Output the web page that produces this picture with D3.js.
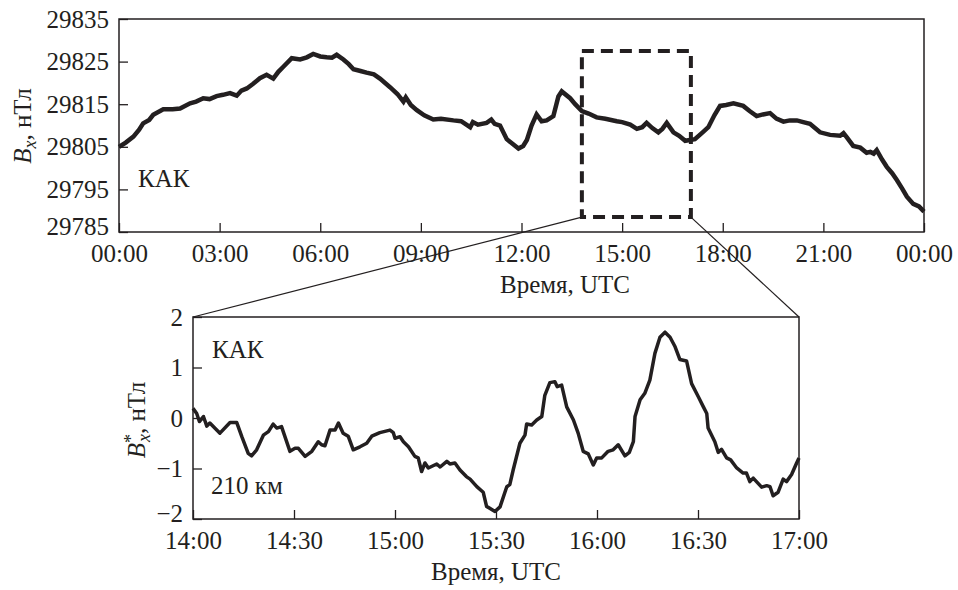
<!DOCTYPE html>
<html>
<head>
<meta charset="utf-8">
<script src="https://cdn.jsdelivr.net/npm/d3@7"></script>
<style>
  body { margin: 0; background: #fff; }
  svg text { font-family: "Times New Roman", "Liberation Serif", Tinos, "DejaVu Serif", "Noto Serif", serif; fill: #231f20; }
</style>
</head>
<body>
<script>
// top panel: whole day, hours UTC and Bx in nT
const topHours = [0, 0.2, 0.43, 0.6, 0.72, 0.9, 1.02, 1.32, 1.6, 1.82, 2.12, 2.3, 2.51, 2.7, 2.91, 3.1, 3.31, 3.51, 3.65, 3.81,
  4.0, 4.2, 4.4, 4.6, 4.75, 4.9, 5.15, 5.4, 5.6, 5.79, 6.0, 6.19, 6.35, 6.49, 6.69, 6.85, 6.99, 7.2, 7.38, 7.6,
  7.78, 8.08, 8.3, 8.48, 8.55, 8.7, 8.88, 9.1, 9.37, 9.6, 9.97, 10.2, 10.47, 10.55, 10.7, 10.96, 11.1, 11.2, 11.36, 11.56,
  11.75, 11.91, 12.05, 12.16, 12.3, 12.45, 12.6, 12.75, 12.95, 13.1, 13.2, 13.45, 13.6, 13.8, 14.0, 14.24, 14.5, 14.84, 15.0, 15.24,
  15.44, 15.6, 15.73, 15.9, 16.08, 16.2, 16.33, 16.53, 16.7, 16.88, 17.17, 17.4, 17.57, 17.75, 17.92, 18.1, 18.32, 18.61, 18.8, 19.01,
  19.2, 19.41, 19.6, 19.81, 20.0, 20.21, 20.4, 20.6, 20.9, 21.2, 21.5, 21.6, 21.7, 21.89, 22.1, 22.29, 22.4, 22.5, 22.59, 22.75,
  22.89, 23.05, 23.19, 23.35, 23.49, 23.68, 23.85, 24]
const topValues = [29805.0, 29806.0, 29807.4, 29809.0, 29810.5, 29811.3, 29812.5, 29813.8, 29813.8, 29814.0, 29815.2, 29815.6, 29816.4, 29816.2, 29816.9, 29817.2, 29817.6, 29817.0, 29818.2, 29818.7,
  29819.8, 29821.1, 29821.9, 29821.0, 29822.6, 29823.8, 29825.8, 29825.5, 29826.0, 29826.8, 29826.2, 29826.0, 29825.9, 29826.6, 29825.5, 29824.4, 29823.2, 29822.8, 29822.4, 29822.0,
  29821.0, 29819.0, 29817.4, 29815.6, 29816.6, 29814.8, 29813.6, 29812.4, 29811.4, 29811.6, 29811.2, 29811.0, 29809.6, 29810.8, 29810.2, 29810.6, 29811.4, 29810.4, 29810.0, 29806.8,
  29805.6, 29804.6, 29805.2, 29806.6, 29810.0, 29812.6, 29811.0, 29811.2, 29812.2, 29816.8, 29818.0, 29816.4, 29815.0, 29813.4, 29812.8, 29811.9, 29811.6, 29811.0, 29810.8, 29810.2,
  29809.2, 29809.6, 29810.6, 29809.4, 29808.4, 29809.2, 29810.6, 29808.4, 29807.6, 29806.4, 29806.8, 29808.4, 29809.6, 29812.4, 29814.6, 29814.8, 29815.2, 29814.6, 29813.4, 29812.2,
  29812.6, 29812.9, 29811.6, 29810.9, 29811.2, 29811.2, 29810.8, 29810.4, 29808.4, 29807.8, 29807.6, 29808.2, 29807.2, 29805.2, 29804.8, 29803.6, 29803.8, 29803.4, 29804.2, 29802.0,
  29800.3, 29798.8, 29797.2, 29795.2, 29793.3, 29791.6, 29791.0, 29789.8]

// bottom panel: minutes after 14:00 and filtered B*x in nT
const botMinutes = [0, 1.1, 1.9, 3.1, 4.1, 5.0, 8.0, 11.0, 13.0, 14.5, 16.4, 17.4, 18.9, 20.9, 22.4, 23.8, 24.9, 26.3, 28.8, 30.3,
  31.3, 33.3, 35.3, 37.2, 38.2, 39.2, 40.7, 42.2, 43.2, 44.6, 46.1, 47.6, 49.6, 51.6, 53.1, 55.5, 58.5, 59.5, 60.0, 61.5,
  62.5, 64.0, 65.9, 66.9, 67.9, 68.9, 69.9, 72.4, 73.4, 75.4, 76.3, 77.8, 79.3, 81.2, 82.3, 84.3, 86.2, 87.2, 89.7, 91.2,
  93.2, 94.1, 95.1, 97.1, 98.6, 99.1, 100.6, 102.1, 103.6, 104.5, 106.0, 107.5, 108.2, 109.5, 111.0, 113.0, 114.4, 115.9, 117.4, 118.9,
  119.9, 121.4, 123.3, 124.8, 126.3, 128.3, 129.6, 130.8, 131.3, 132.8, 134.2, 135.7, 137.2, 138.7, 140.2, 141.7, 143.2, 144.6, 146.6, 148.1,
  150.1, 151.6, 152.6, 153.0, 155.0, 156.0, 157.0, 158.5, 159.7, 161.5, 163.4, 164.4, 165.4, 166.4, 168.9, 170.4, 171.4, 172.3, 173.8, 175.3,
  176.3, 177.8, 179.3, 180]
const botValues = [0.19, 0.09, -0.07, 0.03, -0.16, -0.10, -0.30, -0.09, -0.09, -0.37, -0.70, -0.75, -0.63, -0.34, -0.27, -0.12, -0.20, -0.17, -0.66, -0.60,
  -0.60, -0.76, -0.66, -0.47, -0.53, -0.55, -0.24, -0.24, -0.10, -0.30, -0.36, -0.63, -0.57, -0.50, -0.36, -0.29, -0.24, -0.29, -0.40, -0.37,
  -0.47, -0.57, -0.76, -0.79, -1.06, -0.89, -0.99, -0.91, -0.97, -0.86, -0.91, -0.89, -1.03, -1.16, -1.21, -1.36, -1.47, -1.75, -1.85, -1.76,
  -1.36, -1.32, -1.03, -0.50, -0.34, -0.12, -0.14, -0.04, 0.03, 0.45, 0.70, 0.72, 0.62, 0.65, 0.22, -0.04, -0.30, -0.66, -0.71, -0.93,
  -0.79, -0.79, -0.66, -0.63, -0.53, -0.75, -0.68, -0.47, 0.03, 0.36, 0.49, 0.75, 1.28, 1.60, 1.70, 1.60, 1.41, 1.16, 1.13, 0.68,
  0.42, 0.22, 0.09, -0.20, -0.47, -0.68, -0.62, -0.79, -0.83, -0.99, -1.09, -1.09, -1.26, -1.19, -1.37, -1.34, -1.36, -1.54, -1.47, -1.21,
  -1.26, -1.12, -0.89, -0.79]

const topTicksX = [0, 3, 6, 9, 12, 15, 18, 21, 24]
const topTicksY = [29785, 29795, 29805, 29815, 29825, 29835]
const botTicksX = [0, 30, 60, 90, 120, 150, 180]
const botTicksY = [-2, -1, 0, 1, 2]

// the zoomed window marked on the top panel
const boxHours = [13.8, 17.05]
const boxValues = [29788.5, 29827.5]

const ink = '#231f20'
const serif = '"Times New Roman", "Liberation Serif", Tinos, "DejaVu Serif", "Noto Serif", serif'

const svg = d3.select('body').append('svg')
    .attr('width', 958)
    .attr('height', 590)

//scales for both panels
const xTop = d3.scaleLinear().domain([0, 24]).range([119, 924])
const yTop = d3.scaleLinear().domain([29785, 29835]).range([232, 19])
const xBot = d3.scaleLinear().domain([0, 180]).range([193, 799])
const yBot = d3.scaleLinear().domain([-2, 2]).range([519, 317])

const pad2 = n => (n < 10 ? '0' : '') + n

function drawAxes(x, y, ticksX, ticksY, fmtX, fmtY) {
    const gx = svg.append('g')
        .attr('transform', `translate(0,${y.range()[0]})`)
        .call(d3.axisBottom(x).tickValues(ticksX).tickSize(-9).tickPadding(12).tickFormat(fmtX))
    const gy = svg.append('g')
        .attr('transform', `translate(${x.range()[0]},0)`)
        .call(d3.axisLeft(y).tickValues(ticksY).tickSize(-9).tickPadding(10).tickFormat(fmtY))
    for (const g of [gx, gy]) {
        g.attr('font-family', serif)
        g.select('.domain').remove()
        g.selectAll('line').attr('stroke', ink).attr('stroke-width', 1.3)
        g.selectAll('text')
            .attr('fill', ink)
            .style('font-size', '25px')
    }
    // lowest y label sits a touch higher so it clears the time labels
    gy.selectAll('.tick text').filter(d => d === ticksY[0]).attr('dy', '0.1em')
    //frame
    svg.append('rect')
        .attr('x', x.range()[0])
        .attr('y', y.range()[1])
        .attr('width', x.range()[1] - x.range()[0])
        .attr('height', y.range()[0] - y.range()[1])
        .attr('fill', 'none')
        .attr('stroke', ink)
        .attr('stroke-width', 1.5)
}

drawAxes(xTop, yTop, topTicksX, topTicksY, h => pad2(h % 24) + ':00', d3.format('d'))
drawAxes(xBot, yBot, botTicksX, botTicksY,
    m => (14 + Math.floor(m / 60)) + ':' + pad2(m % 60), d3.format('d'))

// top curve
const topLine = d3.line()
    .x((d, i) => xTop(topHours[i]))
    .y(d => yTop(d))
svg.append('path')
    .attr('d', topLine(topValues))
    .attr('fill', 'none')
    .attr('stroke', ink)
    .attr('stroke-width', 4.5)
    .attr('stroke-linejoin', 'miter')

// bottom curve
const botLine = d3.line()
    .x((d, i) => xBot(botMinutes[i]))
    .y(d => yBot(d))
svg.append('path')
    .attr('d', botLine(botValues))
    .attr('fill', 'none')
    .attr('stroke', ink)
    .attr('stroke-width', 3.5)
    .attr('stroke-linejoin', 'round')

// dashed window
const bx0 = xTop(boxHours[0]), bx1 = xTop(boxHours[1])
const by0 = yTop(boxValues[1]), by1 = yTop(boxValues[0])
svg.append('rect')
    .attr('x', bx0).attr('y', by0)
    .attr('width', bx1 - bx0).attr('height', by1 - by0)
    .attr('fill', 'none')
    .attr('stroke', ink)
    .attr('stroke-width', 4)
    .attr('stroke-dasharray', '12,7')

// connectors from window to the zoom panel
svg.append('line')
    .attr('x1', bx0).attr('y1', by1)
    .attr('x2', xBot.range()[0]).attr('y2', yBot.range()[1])
    .attr('stroke', ink).attr('stroke-width', 1.2)
svg.append('line')
    .attr('x1', bx1).attr('y1', by1)
    .attr('x2', xBot.range()[1]).attr('y2', yBot.range()[1])
    .attr('stroke', ink).attr('stroke-width', 1.2)

// labels
function label(x, y, str, anchor) {
    return svg.append('text')
        .attr('x', x).attr('y', y)
        .attr('text-anchor', anchor || 'start')
        .attr('font-family', serif)
        .style('font-size', '25px')
        .text(str)
}
label(138, 187, 'КАК')
label(212, 358, 'КАК')
label(211, 494, '210 км')
label(565, 293, 'Время, UTC', 'middle')
label(496, 580, 'Время, UTC', 'middle')

// y titles
const t1 = svg.append('text')
    .attr('transform', 'translate(31,126) rotate(-90)')
    .attr('text-anchor', 'middle')
    .attr('font-family', serif)
    .style('font-size', '25px')
t1.append('tspan').style('font-style', 'italic').text('B')
t1.append('tspan').style('font-style', 'italic').style('font-size', '18px').attr('dy', 5).text('x')
t1.append('tspan').attr('dy', -5).text(', нТл')

const t2 = svg.append('text')
    .attr('transform', 'translate(145,420) rotate(-90)')
    .attr('text-anchor', 'middle')
    .attr('font-family', serif)
    .style('font-size', '25px')
t2.append('tspan').style('font-style', 'italic').text('B')
t2.append('tspan').style('font-size', '18px').attr('dy', -8).text('*')
t2.append('tspan').style('font-style', 'italic').style('font-size', '18px').attr('dx', -8).attr('dy', 13).text('x')
t2.append('tspan').attr('dy', -5).text(', нТл')
</script>
</body>
</html>
